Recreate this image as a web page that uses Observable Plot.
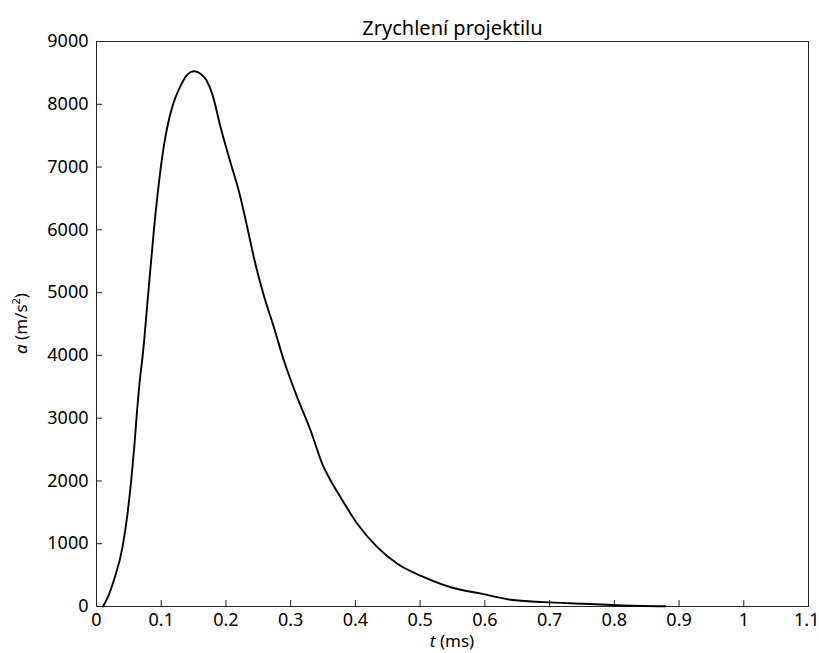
<!DOCTYPE html>
<html>
<head>
<meta charset="utf-8">
<script src="https://cdn.jsdelivr.net/npm/d3@7"></script>
<script src="https://cdn.jsdelivr.net/npm/@observablehq/plot@0.6"></script>
<style>
  html, body { margin: 0; padding: 0; background: #fff; }
  svg { font-family: "Noto Sans", "Open Sans", sans-serif; }
</style>
</head>
<body>
<div id="chart"></div>
<script>
const title = "Zrychlení projektilu";
const tValues = [0.010, 0.018, 0.0267, 0.0402, 0.0479, 0.0536, 0.0583, 0.0623, 0.0669, 0.0711, 0.0799, 0.0886, 0.0994, 0.1046, 0.1093, 0.1185, 0.1288, 0.1391, 0.1450, 0.1515, 0.1607, 0.170, 0.1788, 0.1917, 0.2061, 0.2210, 0.2329, 0.2442, 0.2577, 0.2740, 0.2895, 0.310, 0.3308, 0.3488, 0.3617, 0.3771, 0.4029, 0.4338, 0.4648, 0.5059, 0.5471, 0.596, 0.640, 0.691, 0.753, 0.805, 0.879];
const aValues = [0, 160, 414, 945, 1477, 2007, 2537, 3069, 3600, 3971, 4981, 5989, 6998, 7370, 7635, 8007, 8272, 8458, 8510, 8527, 8485, 8378, 8166, 7635, 7104, 6574, 6042, 5512, 4981, 4449, 3918, 3334, 2803, 2273, 2007, 1741, 1317, 945, 680, 467, 307, 200, 107, 69, 43, 20, 3];
const xTicks = [0, 0.1, 0.2, 0.3, 0.4, 0.5, 0.6, 0.7, 0.8, 0.9, 1, 1.1];
const yTicks = [0, 1000, 2000, 3000, 4000, 5000, 6000, 7000, 8000, 9000];

const data = tValues.map((t, i) => ({t, a: aValues[i]}));

const W = 819, H = 653;
const mL = 96, mR = 11, mT = 41, mB = 47;
const frameW = W - mL - mR, frameH = H - mT - mB;
const tick = 6;

const chart = Plot.plot({
  width: W,
  height: H,
  marginLeft: mL,
  marginRight: mR,
  marginTop: mT,
  marginBottom: mB,
  style: {fontSize: "18px", fontFamily: "'Noto Sans', 'Open Sans', sans-serif", color: "#000", background: "#fff"},
  x: {domain: [0, 1.1]},
  y: {domain: [0, 9000]},
  marks: [
    Plot.axisX(xTicks.slice(0, -1), {tickSize: 0, tickPadding: 7, label: null, tickFormat: d => String(d), fontSize: 18}),
    Plot.axisX(xTicks.slice(-1), {tickSize: 0, tickPadding: 7, label: null, tickFormat: d => String(d), fontSize: 18, textAnchor: "end", dx: 11}),
    Plot.axisY(yTicks, {tickSize: 0, tickPadding: 8, label: null, tickFormat: d => String(d), fontSize: 18}),
    Plot.ruleX(xTicks, {x: d => d, insetTop: frameH - tick, stroke: "#222"}),
    Plot.ruleY(yTicks, {y: d => d, insetRight: frameW - tick, stroke: "#222"}),
    Plot.frame({stroke: "#222", strokeWidth: 1}),
    Plot.line(data, {x: "t", y: "a", curve: "monotone-x", stroke: "#000", strokeWidth: 1.9}),
    Plot.text([title], {frameAnchor: "top", lineAnchor: "bottom", dy: -7, fontSize: 20, fill: "#000"})
  ]
});

const svg = d3.select(chart);
const xl = svg.append("text")
  .attr("x", mL + frameW / 2)
  .attr("y", H - 6)
  .attr("text-anchor", "middle")
  .attr("font-size", 17)
  .attr("fill", "#000");
xl.append("tspan").attr("font-style", "italic").text("t");
xl.append("tspan").text(" (ms)");

const yl = svg.append("text")
  .attr("transform", `translate(27,${mT + frameH / 2}) rotate(-90)`)
  .attr("text-anchor", "middle")
  .attr("font-size", 17)
  .attr("fill", "#000");
yl.append("tspan").attr("font-style", "italic").text("a");
yl.append("tspan").text(" (m/s");
yl.append("tspan").attr("font-size", 11).attr("dy", -7).text("2");
yl.append("tspan").attr("dy", 7).text(")");

document.getElementById("chart").appendChild(chart);
</script>
</body>
</html>
